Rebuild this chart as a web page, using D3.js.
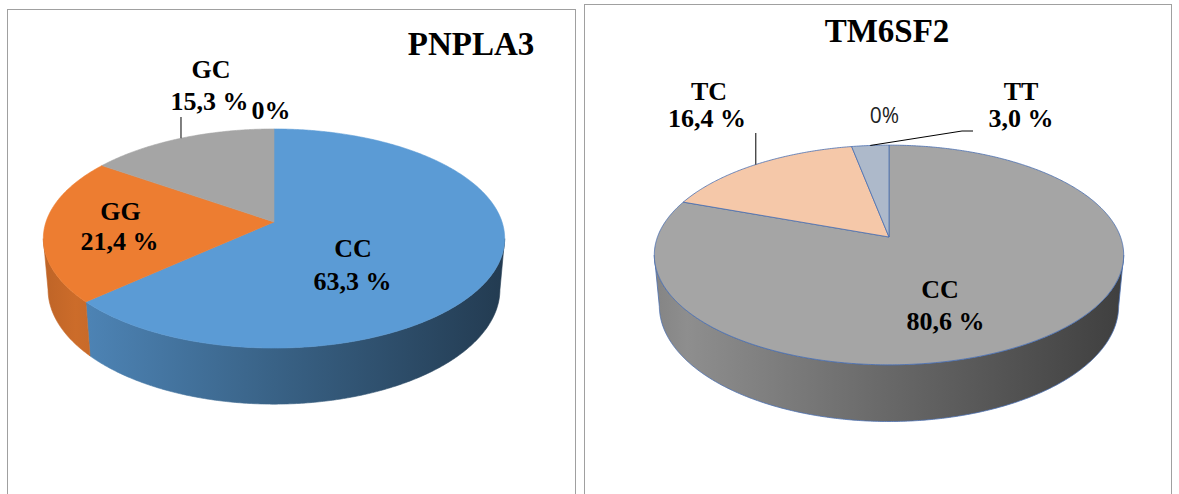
<!DOCTYPE html>
<html>
<head>
<meta charset="utf-8">
<script src="https://cdn.jsdelivr.net/npm/d3@7"></script>
<style>
  body { margin: 0; background: #fff; }
  text { font-family: "Liberation Serif", "Times New Roman", serif; font-weight: bold; fill: #000; }
</style>
</head>
<body>
<svg id="chart" width="1179" height="494"></svg>
<script>
// PNPLA3 genotype distribution (%)
const pnplaGenotypes = ["CC", "GG", "GC", ""];
const pnplaShares = [63.3, 21.4, 15.3, 0];
const pnplaValueLabels = ["63,3 %", "21,4 %", "15,3 %", "0%"];
const pnplaColors = ["#5B9BD5", "#ED7D31", "#A5A5A5", "#FFC000"];

// TM6SF2 genotype distribution (%)
const tm6Genotypes = ["CC", "TC", "TT", ""];
const tm6Shares = [80.6, 16.4, 3.0, 0];
const tm6ValueLabels = ["80,6 %", "16,4 %", "3,0 %", "0%"];
const tm6Colors = ["#A5A5A5", "#F5C8A9", "#ADB9CA", "#FFC000"];

const svg = d3.select("#chart");

// panel frames
svg.append("rect").attr("x", 7.5).attr("y", 9.5).attr("width", 568).attr("height", 500)
  .attr("fill", "none").attr("stroke", "#A0A0A0").attr("stroke-width", 1);
svg.append("rect").attr("x", 584.5).attr("y", 4.5).attr("width", 587).attr("height", 500)
  .attr("fill", "none").attr("stroke", "#A0A0A0").attr("stroke-width", 1);

const defs = svg.append("defs");

// perspective projection of a point on a tilted disc
function projector(p) {
  const s = Math.sin(p.tilt), c = Math.cos(p.tilt);
  return (phi, h, r = 1) => {
    const X = r * Math.sin(phi), Z = r * Math.cos(phi);
    const yc = Z * s + h * c, zc = p.D + Z * c - h * s;
    return [p.cx + p.k * X / zc, p.cy - p.k * yc / zc];
  };
}

// side shading from left (light) to right (dark)
const shadeOffsets = [0, 0.07, 0.5, 1];
const shadeFactors = [0.80, 0.86, 0.63, 0.38];

function drawPie3D(cfg) {
  const proj = projector(cfg.view);
  const g = svg.append("g");
  const line = d3.line();
  const data = cfg.genotypes.map((name, i) => ({
    name, value: cfg.shares[i], label: cfg.valueLabels[i], color: cfg.colors[i], i
  }));
  const arcs = d3.pie().sort(null).value(d => d.value)(data);

  const deg = Math.PI / 180;
  const arcPts = (a0, a1, h) => {
    const n = Math.max(2, Math.ceil(Math.abs(a1 - a0) / (0.5 * deg)));
    return d3.range(n + 1).map(j => proj(a0 + (a1 - a0) * j / n, h));
  };

  // silhouette angles of the top face
  const samples = d3.range(0, 360, 0.25).map(a => ({ a: a * deg, x: proj(a * deg, 0)[0] }));
  const right = d3.greatest(samples, d => d.x);
  const left = d3.least(samples, d => d.x);
  const wallFrom = right.a, wallTo = left.a;
  const xMin = left.x, xMax = right.x;

  const t = -cfg.view.thickness;

  // walls
  arcs.forEach(a => {
    if (a.data.value <= 0) return;
    const a0 = Math.max(a.startAngle, wallFrom), a1 = Math.min(a.endAngle, wallTo);
    if (a1 <= a0) return;
    const gid = `${cfg.id}-side-${a.data.i}`;
    const grad = defs.append("linearGradient").attr("id", gid)
      .attr("gradientUnits", "userSpaceOnUse")
      .attr("x1", xMin).attr("x2", xMax).attr("y1", 0).attr("y2", 0);
    const base = d3.rgb(a.data.color);
    shadeOffsets.forEach((o, j) => {
      const f = shadeFactors[j];
      grad.append("stop").attr("offset", o)
        .attr("stop-color", d3.rgb(base.r * f, base.g * f, base.b * f).formatHex());
    });
    const pts = arcPts(a0, a1, 0).concat(arcPts(a1, a0, t));
    g.append("path").attr("d", line(pts) + "Z")
      .attr("fill", `url(#${gid})`)
      .attr("stroke", cfg.stroke || `url(#${gid})`)
      .attr("stroke-width", cfg.stroke ? cfg.strokeWidth : 0.6)
      .attr("stroke-linejoin", "round");
  });

  // top face
  const centre = proj(0, 0, 0);
  arcs.forEach(a => {
    if (a.data.value <= 0) return;
    const pts = [centre].concat(arcPts(a.startAngle, a.endAngle, 0));
    g.append("path").attr("d", line(pts) + "Z")
      .attr("fill", a.data.color)
      .attr("stroke", cfg.stroke || a.data.color)
      .attr("stroke-width", cfg.stroke ? cfg.strokeWidth : 0.6)
      .attr("stroke-linejoin", "round");
  });

  // labels
  arcs.forEach(a => {
    const lay = cfg.labels[a.data.i];
    if (!lay) return;
    const mid = (a.startAngle + a.endAngle) / 2;
    const edge = proj(mid, 0);
    if (lay.leader) {
      const pts = lay.leader === "vertical"
        ? [edge, [edge[0], lay.leaderTop]]
        : [edge].concat(lay.leader);
      g.append("path").attr("d", line(pts))
        .attr("fill", "none").attr("stroke", "#000").attr("stroke-width", 1);
    }
    if (a.data.name) {
      g.append("text").attr("x", lay.name[0]).attr("y", lay.name[1])
        .attr("text-anchor", "middle").attr("font-size", 26).text(a.data.name);
    }
    const v = g.append("text").attr("x", lay.value[0]).attr("y", lay.value[1])
      .attr("text-anchor", "middle").text(a.data.label);
    if (lay.plain) {
      v.style("font-family", "'Open Sans', 'Liberation Sans', sans-serif")
        .style("font-weight", "normal").attr("font-size", 21).style("fill", "#222");
    } else {
      v.attr("font-size", 26);
    }
  });

  svg.append("text").attr("x", cfg.title.x).attr("y", cfg.title.y)
    .attr("text-anchor", "middle").attr("font-size", 33).text(cfg.title.text);
}

drawPie3D({
  id: "pnpla",
  genotypes: pnplaGenotypes, shares: pnplaShares, valueLabels: pnplaValueLabels, colors: pnplaColors,
  view: { cx: 274, cy: 222, k: 1335.6, D: 5.857, tilt: 28 * Math.PI / 180, thickness: 0.255 },
  title: { text: "PNPLA3", x: 471, y: 55 },
  labels: [
    { name: [353, 257], value: [352.5, 290] },
    { name: [120.5, 220], value: [119.5, 250] },
    { name: [211, 78], value: [209.5, 110], leader: "vertical", leaderTop: 117 },
    { value: [271, 119] }
  ]
});

drawPie3D({
  id: "tm6",
  genotypes: tm6Genotypes, shares: tm6Shares, valueLabels: tm6ValueLabels, colors: tm6Colors,
  view: { cx: 889, cy: 237, k: 1255.3, D: 5.422, tilt: 27.5 * Math.PI / 180, thickness: 0.25 },
  stroke: "#4A6FB0", strokeWidth: 0.8,
  title: { text: "TM6SF2", x: 887, y: 42 },
  labels: [
    { name: [940, 298], value: [945.5, 330] },
    { name: [709, 100], value: [707, 127], leader: "vertical", leaderTop: 133 },
    { name: [1021, 100], value: [1021, 127], leader: [[962, 131], [973, 131]] },
    { value: [884.5, 123], plain: true }
  ]
});
</script>
</body>
</html>
